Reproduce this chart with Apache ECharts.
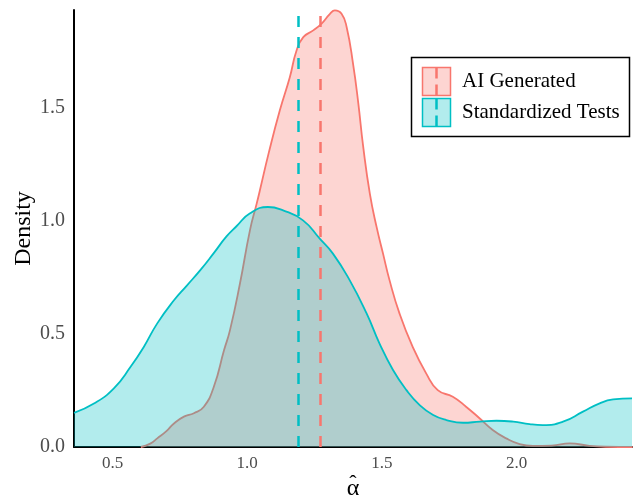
<!DOCTYPE html>
<html><head><meta charset="utf-8">
<script src="https://cdn.jsdelivr.net/npm/echarts@6/dist/echarts.min.js"></script>
<style>html,body{margin:0;padding:0;background:#fff}#c{width:634px;height:496px}</style>
</head><body><div id="c"></div>
<script>
const seriesNames = ['AI Generated', 'Standardized Tests'];
const aiX = [0.605,0.64,0.666,0.70,0.728,0.765,0.802,0.839,0.876,0.914,0.936,0.973,1.01,1.035,1.047,1.08,1.121,1.158,1.183,1.208,1.245,1.276,1.307,1.325,1.35,1.369,1.393,1.412,1.43,1.455,1.48,1.504,1.528,1.565,1.614,1.664,1.707,1.763,1.812,1.862,1.911,1.961,2.011,2.06,2.13,2.197,2.27,2.33,2.43];
const aiY = [0,0.015,0.038,0.07,0.104,0.134,0.149,0.178,0.266,0.428,0.516,0.722,0.957,1.075,1.134,1.30,1.487,1.633,1.751,1.81,1.84,1.87,1.913,1.928,1.913,1.854,1.69,1.52,1.33,1.119,0.972,0.854,0.737,0.59,0.442,0.325,0.251,0.222,0.178,0.127,0.075,0.038,0.013,0.005,0.006,0.016,0.005,0.001,0];
const stX = [0.357,0.431,0.505,0.567,0.616,0.666,0.728,0.775,0.825,0.875,0.923,0.96,1.009,1.077,1.133,1.207,1.269,1.318,1.38,1.443,1.491,1.541,1.591,1.64,1.69,1.739,1.801,1.863,1.925,1.987,2.048,2.097,2.172,2.246,2.308,2.358,2.428];
const stY = [0.151,0.192,0.259,0.354,0.442,0.546,0.648,0.712,0.78,0.855,0.93,0.975,1.031,1.06,1.045,1.001,0.92,0.854,0.737,0.59,0.457,0.34,0.251,0.185,0.141,0.119,0.107,0.112,0.116,0.112,0.101,0.097,0.112,0.156,0.193,0.21,0.215];
const meanLines = [1.275, 1.185];
const xTicks = [0.5, 1.0, 1.5, 2.0];
const yTicks = [0.0, 0.5, 1.0, 1.5];
const colors = ['#F8766D', '#00BFC4'];
const fills = ['rgba(248,118,109,0.31)', 'rgba(0,191,196,0.30)'];
const font = 'Liberation Serif';

const chart = echarts.init(document.getElementById('c'), null, {renderer: 'canvas'});
function mk(i, xs, ys) {
  return {
    name: seriesNames[i], type: 'line', smooth: 0.5, symbol: 'none',
    data: xs.map((x, k) => [x, ys[k]]),
    lineStyle: {color: colors[i], width: 1.8},
    areaStyle: {color: fills[i], opacity: 1, origin: 'start'},
    z: 2 + i,
    markLine: {
      silent: true, symbol: 'none', label: {show: false},
      lineStyle: {color: colors[i], type: [11, 10], width: 2.5, opacity: 1},
      emphasis: {disabled: true},
      data: [{xAxis: meanLines[i]}]
    }
  };
}
const legendItems = [];
seriesNames.forEach((n, i) => {
  const y0 = 67.5 + i * 31;
  legendItems.push({type: 'rect', shape: {x: 422.5, y: y0, width: 28, height: 28}, style: {fill: fills[i], stroke: colors[i], lineWidth: 1.5}, z: 10});
  legendItems.push({type: 'line', shape: {x1: 436.5, y1: y0, x2: 436.5, y2: y0 + 28}, style: {stroke: colors[i], lineWidth: 2.5, lineDash: [11, 6]}, z: 11});
  legendItems.push({type: 'text', x: 462, y: y0 + 14, style: {text: n, font: '21px "' + font + '"', fill: '#000', textVerticalAlign: 'middle'}, z: 11});
});
chart.setOption({
  animation: false,
  backgroundColor: '#fff',
  grid: {left: 74, right: 2, top: 10, bottom: 49, outerBoundsMode: 'none', containLabel: false},
  xAxis: {
    type: 'value', min: 0.357, max: 2.428,
    name: 'α', nameLocation: 'middle', nameGap: 30, nameMoveOverlap: false,
    nameTextStyle: {fontFamily: font, fontSize: 24, color: '#000'},
    axisLine: {show: true, lineStyle: {color: '#000', width: 2}},
    axisTick: {show: false},
    splitLine: {show: false},
    axisLabel: {customValues: xTicks, formatter: v => v.toFixed(1), fontFamily: font, fontSize: 17, color: '#4D4D4D', margin: 8}
  },
  yAxis: {
    type: 'value', min: 0, max: 1.93,
    name: 'Density', nameLocation: 'middle', nameGap: 38, nameMoveOverlap: false,
    nameTextStyle: {fontFamily: font, fontSize: 24, color: '#000'},
    axisLine: {show: true, lineStyle: {color: '#000', width: 2}},
    axisTick: {show: false},
    splitLine: {show: false},
    axisLabel: {customValues: yTicks, formatter: v => v.toFixed(1), fontFamily: font, fontSize: 20, color: '#4D4D4D', margin: 9}
  },
  series: [mk(0, aiX, aiY), mk(1, stX, stY)],
  graphic: [
    {type: 'rect', shape: {x: 411.5, y: 57.5, width: 218, height: 79}, style: {fill: '#fff', stroke: '#000', lineWidth: 1.5}, z: 9},
    {type: 'text', x: 353, y: 484, style: {text: 'ˆ', font: '22px "' + font + '"', fill: '#000', textAlign: 'center', textVerticalAlign: 'middle'}, z: 11}
  ].concat(legendItems)
});
</script></body></html>
